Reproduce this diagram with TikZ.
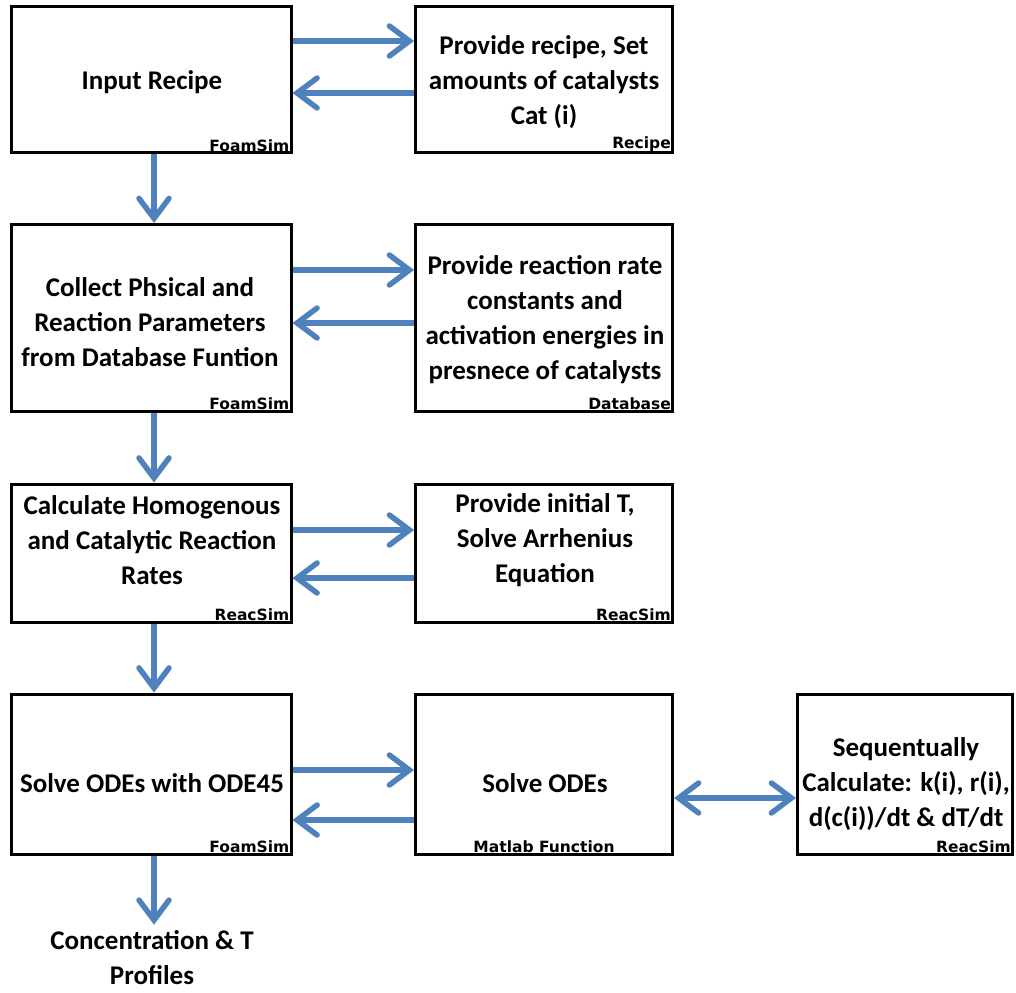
\documentclass[tikz,border=0pt]{standalone}
\usepackage{fontspec}
\setmainfont{Carlito}
\newfontfamily\lblfont{DejaVu Sans}
\usetikzlibrary{arrows.meta}
\definecolor{arrblue}{RGB}{79,129,189}
\tikzset{
  box/.style={draw=black, line width=3pt, rectangle, inner sep=0pt, fill=white},
  txt/.style={font=\bfseries\fontsize{27}{35}\selectfont, align=center, inner sep=0pt},
  lbl/.style={font=\lblfont\bfseries\fontsize{15.5}{17}\selectfont, inner sep=0pt, anchor=south east},
  arr/.style={draw=arrblue, line width=5.5pt, -{Straight Barb[length=20pt,width=30pt,line cap=round]}},
  darr/.style={draw=arrblue, line width=5.5pt, {Straight Barb[length=20pt,width=30pt,line cap=round]}-{Straight Barb[length=20pt,width=30pt,line cap=round]}}
}
\begin{document}
\begin{tikzpicture}[x=1pt,y=-1pt]
\useasboundingbox (0,0) rectangle (1016,992);
% boxes
\node[box, minimum width=280pt, minimum height=146pt] (b1) at (151,80) {};
\node[box, minimum width=257pt, minimum height=146pt] (b2) at (544,80) {};
\node[box, minimum width=280pt, minimum height=187pt] (b3) at (151,318) {};
\node[box, minimum width=257pt, minimum height=187pt] (b4) at (544,318) {};
\node[box, minimum width=280pt, minimum height=138pt] (b5) at (151,553) {};
\node[box, minimum width=257pt, minimum height=138pt] (b6) at (544,553) {};
\node[box, minimum width=280pt, minimum height=160pt] (b7) at (151,774) {};
\node[box, minimum width=257pt, minimum height=160pt] (b8) at (544,774) {};
\node[box, minimum width=215pt, minimum height=160pt] (b9) at (905,774) {};
% texts
\node[txt] (t1) at (152,82) {Input Recipe};
\node[txt] (t2) at (544,82) {Provide recipe, Set\\amounts of catalysts\\Cat (i)};
\node[txt] (t3) at (150,322) {Collect Phsical and\\Reaction Parameters\\from Database Funtion};
\node[txt] (t4) at (545,320) {Provide reaction rate\\constants and\\activation energies in\\presnece of catalysts};
\node[txt] (t5) at (152,540) {Calculate Homogenous\\and Catalytic Reaction\\Rates};
\node[txt] (t6) at (545,540) {Provide initial T,\\Solve Arrhenius\\Equation};
\node[txt] (t7) at (152,783) {Solve ODEs with ODE45};
\node[txt] (t8) at (545,783) {Solve ODEs};
\node[txt] (t9) at (906,784) {Sequentually\\Calculate: k(i), r(i),\\d(c(i))/dt \& dT/dt};
\node[txt] (t10) at (152,958) {Concentration \& T\\Profiles};
% small labels
\node[lbl] (l1) at ([xshift=-3pt,yshift=3pt]b1.south east) {FoamSim};
\node[lbl] (l2) at ([xshift=-3pt,yshift=3pt]b2.south east) {Recipe};
\node[lbl] (l3) at ([xshift=-3pt,yshift=3pt]b3.south east) {FoamSim};
\node[lbl] (l4) at ([xshift=-3pt,yshift=3pt]b4.south east) {Database};
\node[lbl] (l5) at ([xshift=-3pt,yshift=3pt]b5.south east) {ReacSim};
\node[lbl] (l6) at ([xshift=-3pt,yshift=3pt]b6.south east) {ReacSim};
\node[lbl] (l7) at ([xshift=-3pt,yshift=3pt]b7.south east) {FoamSim};
\node[lbl, anchor=south] (l8) at ([yshift=3pt]b8.south) {Matlab Function};
\node[lbl] (l9) at ([xshift=-3pt,yshift=3pt]b9.south east) {ReacSim};
% horizontal arrows
\draw[arr] ([yshift=39pt]b1.east) -- ([yshift=39pt]b2.west);
\draw[arr] ([yshift=-13pt]b2.west) -- ([yshift=-13pt]b1.east);
\draw[arr] ([yshift=48pt]b3.east) -- ([yshift=48pt]b4.west);
\draw[arr] ([yshift=-5pt]b4.west) -- ([yshift=-5pt]b3.east);
\draw[arr] ([yshift=23pt]b5.east) -- ([yshift=23pt]b6.west);
\draw[arr] ([yshift=-25pt]b6.west) -- ([yshift=-25pt]b5.east);
\draw[arr] ([yshift=4pt]b7.east) -- ([yshift=4pt]b8.west);
\draw[arr] ([yshift=-46pt]b8.west) -- ([yshift=-46pt]b7.east);
\draw[darr] ([yshift=-24pt]b8.east) -- ([yshift=-24pt]b9.west);
% vertical arrows
\draw[arr] ([xshift=3pt]b1.south) -- ([xshift=3pt]b3.north);
\draw[arr] ([xshift=3pt]b3.south) -- ([xshift=3pt]b5.north);
\draw[arr] ([xshift=3pt]b5.south) -- ([xshift=3pt]b7.north);
\draw[arr] ([xshift=3pt]b7.south) -- ([xshift=2pt,yshift=6pt]t10.north);
\end{tikzpicture}
\end{document}
